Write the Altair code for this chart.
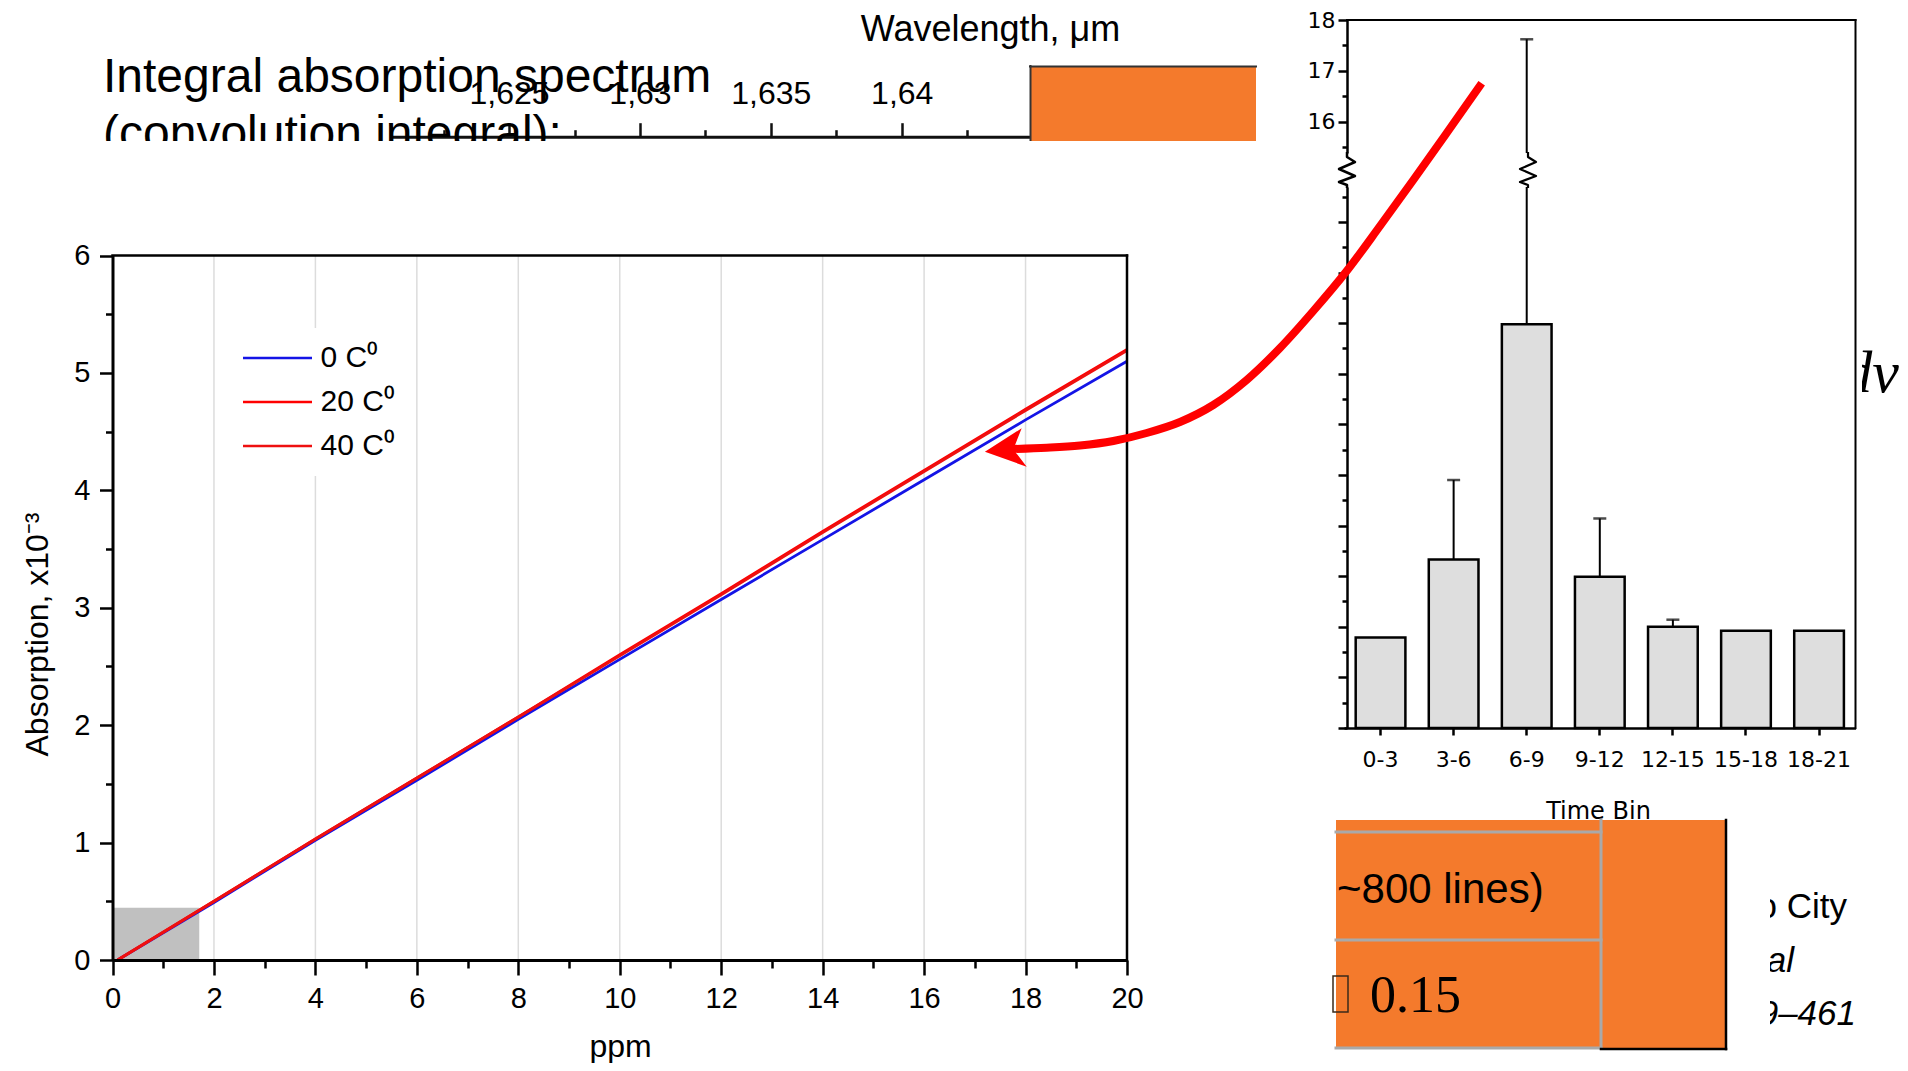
import altair as alt
import pandas as pd

# ---------------- canvas ----------------
W, H = 1892, 1055          # page minus the 8px margins
M = 8
def cx(v): return round(v - M, 1)
def cy(v): return round(v - M, 1)

# ---------------- data: main chart ----------------
PPM = [0.1, 2, 4, 6, 8, 10, 12, 14, 16, 18, 20]
ABS_0C = [0, 0.49, 1.02, 1.53, 2.05, 2.56, 3.07, 3.58, 4.09, 4.60, 5.10]
ABS_20C = [0, 0.50, 1.03, 1.55, 2.07, 2.60, 3.12, 3.65, 4.17, 4.69, 5.20]
ABS_40C = [0, 0.50, 1.03, 1.55, 2.07, 2.59, 3.11, 3.64, 4.16, 4.68, 5.19]
SERIES = ["0 C\u2070", "20 C\u2070", "40 C\u2070"]
SERIES_COLORS = ["#1414e6", "#ff0000", "#ee1010"]
X_MAJOR = [0, 2, 4, 6, 8, 10, 12, 14, 16, 18, 20]
X_MINOR = [1, 3, 5, 7, 9, 11, 13, 15, 17, 19]
GRID_X = [2, 4, 6, 8, 10, 12, 14, 16, 18]
Y_MAJOR = [0, 1, 2, 3, 4, 5, 6]
Y_MINOR = [0.5, 1.5, 2.5, 3.5, 4.5, 5.5]
SHADE_X = [0, 1.71]
SHADE_Y = [0, 0.445]

# ---------------- data: wavelength axis ----------------
WL_DOMAIN = [1.62045, 1.6449]
WL_MAJOR = [1.625, 1.63, 1.635, 1.64]
WL_MINOR = [1.6225, 1.6275, 1.6325, 1.6375, 1.6425]

# ---------------- data: bar chart ----------------
BINS = ["0-3", "3-6", "6-9", "9-12", "12-15", "15-18", "18-21"]
BAR_VALUES = [1.79, 3.33, 7.98, 2.99, 2.00, 1.92, 1.92]
ERR_TOP = [None, 4.90, 17.62, 4.14, 2.14, None, None]
LOW_DOMAIN = [0, 10.69]
HIGH_DOMAIN = [15.38, 18]
LOW_MAJOR = [0, 1, 2, 3, 4, 5, 6, 7, 8, 9, 10]
LOW_MINOR = [0.5, 1.5, 2.5, 3.5, 4.5, 5.5, 6.5, 7.5, 8.5, 9.5, 10.5]
HIGH_MAJOR = [16, 17, 18]
HIGH_MINOR = [15.5, 16.5, 17.5]

SANS = "Liberation Sans"
SERIF = "Liberation Serif"
BARFONT = "DejaVu Sans"
ORANGE = "#f47a2c"

ONE = pd.DataFrame({"k": [0]})


def text_at(s, x, y, size, font=SANS, align="left", style=None, color="black"):
    kw = dict(text=s, font=font, fontSize=size, align=align, baseline="alphabetic", color=color)
    if style:
        kw["fontStyle"] = style
    return alt.Chart(ONE).mark_text(**kw).encode(x=alt.value(cx(x)), y=alt.value(cy(y)))


def box(x1, x2, y1, y2, color, **kw):
    return alt.Chart(ONE).mark_rect(color=color, **kw).encode(
        x=alt.value(cx(x1)), x2=alt.value(cx(x2)), y=alt.value(cy(y1)), y2=alt.value(cy(y2)))


def seg(x1, y1, x2, y2, color="black", w=2.0):
    return alt.Chart(ONE).mark_rule(color=color, strokeWidth=w, strokeCap="square").encode(
        x=alt.value(cx(x1)), x2=alt.value(cx(x2)), y=alt.value(cy(y1)), y2=alt.value(cy(y2)))


def path(points, color, w, interp="linear"):
    df = pd.DataFrame({"i": list(range(len(points))),
                       "px": [cx(p[0]) for p in points],
                       "py": [cy(p[1]) for p in points]})
    return alt.Chart(df).mark_line(color=color, strokeWidth=w, interpolate=interp,
                                   strokeCap="butt", strokeJoin="round").encode(
        x=alt.X("px:Q", scale=None, axis=None),
        y=alt.Y("py:Q", scale=None, axis=None),
        order="i:Q")


layers = []

# ---------------- slide text behind the pictures ----------------
layers.append(text_at("Integral absorption spectrum", 103, 91.7, 48))
layers.append(text_at("(convolution integral):", 103, 149, 48))

# ---------------- wavelength axis ----------------
WX = alt.Scale(domain=WL_DOMAIN, range=[cx(390), cx(1030)], nice=False, zero=False)
wl_major_df = pd.DataFrame({"wl": WL_MAJOR})
wl_minor_df = pd.DataFrame({"wl": WL_MINOR})
layers.append(alt.Chart(wl_major_df).mark_point(opacity=0).encode(
    x=alt.X("wl:Q", scale=WX, axis=alt.Axis(
        orient="top", offset=-cy(136.7), values=WL_MAJOR, tickSize=14, tickWidth=2.5,
        tickColor="#111", domainColor="#111", domainWidth=3, grid=False,
        labelFont=SANS, labelFontSize=32, labelColor="black", labelPadding=12.7,
        labelExpr="replace(format(datum.value, '.4~f'), '.', ',')",
        labelFlush=False, labelOverlap=False,
        title="Wavelength, \u03bcm", titleFont=SANS, titleFontSize=36, titleFontWeight="normal",
        titleColor="black", titleX=cx(990), titleY=-(136.7 - 40), titleBaseline="alphabetic",
        titleAlign="center"))))
layers.append(alt.Chart(wl_minor_df).mark_point(opacity=0).encode(
    x=alt.X("wl:Q", scale=WX, axis=alt.Axis(
        orient="top", offset=-cy(136.7), values=WL_MINOR, tickSize=7, tickWidth=2.5,
        tickColor="#111", domain=False, labels=False, grid=False, title=None))))

# orange box at the top
layers.append(box(1030, 1256, 66, 141, ORANGE))
layers.append(seg(1030, 66.5, 1256, 66.5, "#333", 2))
layers.append(seg(1030.5, 66, 1030.5, 141, "#333", 2))

# "dν" partly hidden by the bar-chart picture
layers.append(text_at("d\u03bd", 1899, 392, 60, font=SERIF, align="right", style="italic"))
layers.append(box(1832, 1862, 330, 410, "white"))

# white background of the main chart picture
layers.append(box(0, 1336, 141, 1071, "white"))

# ---------------- main chart ----------------
XS = alt.Scale(domain=[0, 20], range=[cx(112.5), cx(1127)], nice=False, zero=False)
YS = alt.Scale(domain=[0, 6], range=[cy(960), cy(255.5)], nice=False, zero=False)
X_OFF = cy(960) - H
Y_OFF = -cx(112.5)

grid_df = pd.DataFrame({"g": GRID_X})
layers.append(alt.Chart(grid_df).mark_rule(color="#dcdcdc", strokeWidth=1.5).encode(
    x=alt.X("g:Q", scale=XS, axis=alt.Axis(
        orient="bottom", offset=X_OFF, values=X_MINOR, tickSize=8, tickWidth=2.5,
        tickColor="black", domain=False, labels=False, grid=False, title=None, zindex=1)),
    y=alt.value(cy(255.5)), y2=alt.value(cy(960))))

shade_df = pd.DataFrame({"x0": [SHADE_X[0]], "x1": [SHADE_X[1]],
                         "y0": [SHADE_Y[0]], "y1": [SHADE_Y[1]]})
layers.append(alt.Chart(shade_df).mark_rect(color="#c0c0c0").encode(
    x=alt.X("x0:Q", scale=XS, axis=None), x2="x1:Q",
    y=alt.Y("y0:Q", scale=YS, axis=alt.Axis(
        orient="left", offset=Y_OFF, values=Y_MINOR, tickSize=7, tickWidth=2.5,
        tickColor="black", domain=False, labels=False, grid=False, title=None, zindex=1)),
    y2="y1:Q"))

main_df = pd.DataFrame({
    "ppm": PPM * 3,
    "absorption": ABS_0C + ABS_20C + ABS_40C,
    "series": [s for s in SERIES for _ in PPM],
})
layers.append(alt.Chart(main_df).mark_line(strokeWidth=2.8).encode(
    x=alt.X("ppm:Q", scale=XS, axis=alt.Axis(
        orient="bottom", offset=X_OFF, values=X_MAJOR, tickSize=15, tickWidth=2.5,
        tickColor="black", domainColor="black", domainWidth=3, grid=False,
        labelFont=SANS, labelFontSize=29, labelColor="black", labelPadding=9,
        labelFlush=False, labelOverlap=False,
        title="ppm", titleFont=SANS, titleFontSize=32, titleFontWeight="normal",
        titleColor="black", titleX=cx(620), titleY=96, titleBaseline="alphabetic",
        titleAlign="center", zindex=1)),
    y=alt.Y("absorption:Q", scale=YS, axis=alt.Axis(
        orient="left", offset=Y_OFF, values=Y_MAJOR, tickSize=13, tickWidth=2.5,
        tickColor="black", domainColor="black", domainWidth=3, grid=False,
        labelFont=SANS, labelFontSize=29, labelColor="black", labelPadding=9.5,
        labelFlush=False, labelOverlap=False,
        title="Absorption, x10\u207b\u00b3", titleFont=SANS, titleFontSize=32,
        titleFontWeight="normal", titleColor="black", titleAngle=270,
        titleX=47 - 112.5, titleY=cy(634), titleBaseline="alphabetic", titleAlign="center",
        zindex=1)),
    color=alt.Color("series:N", scale=alt.Scale(domain=SERIES, range=SERIES_COLORS),
                    legend=alt.Legend(
                        title=None, orient="none", legendX=cx(243) - 15.5, legendY=cy(343) - 15,
                        direction="vertical", symbolType="M -3 0 L 3 0", symbolSize=529,
                        symbolStrokeWidth=2.5, symbolOffset=20, symbolFillColor="transparent",
                        labelFont=SANS, labelFontSize=30, labelColor="black",
                        labelOffset=28, rowPadding=14, padding=15, fillColor="white",
                        labelLimit=400, zindex=1)),
))

# frame (top and right)
layers.append(seg(112.5, 255.5, 1127, 255.5, "black", 2.5))
layers.append(seg(1127, 255.5, 1127, 960, "black", 2.5))

# ---------------- bar chart ----------------
BX = alt.Scale(domain=BINS, range=[cx(1344), cx(1855.6)], paddingInner=0.32, paddingOuter=0.16)
LOWY = alt.Scale(domain=LOW_DOMAIN, range=[cy(728), cy(187)], nice=False, zero=False)
HIGHY = alt.Scale(domain=HIGH_DOMAIN, range=[cy(153), cy(20)], nice=False, zero=False)
BAR_AX = -cx(1347)

bar_df = pd.DataFrame({"bin": BINS, "value": BAR_VALUES, "err": ERR_TOP})

layers.append(alt.Chart(bar_df).mark_bar(fill="#dedede", stroke="black", strokeWidth=2.5).encode(
    x=alt.X("bin:N", scale=BX, sort=BINS, axis=alt.Axis(
        orient="bottom", offset=cy(728) - H, tickSize=7, tickWidth=2.5, tickColor="black",
        domainColor="black", domainWidth=2.5, labelAngle=0, labelFont=BARFONT,
        labelFontSize=22, labelColor="black", labelPadding=14, grid=False,
        title="Time Bin", titleFont=BARFONT, titleFontSize=24, titleFontWeight="normal",
        titleColor="black", titleX=cx(1598), titleY=90, titleBaseline="alphabetic",
        titleAlign="center")),
    y=alt.Y("value:Q", scale=LOWY, axis=alt.Axis(
        orient="left", offset=BAR_AX, values=LOW_MAJOR, tickSize=9, tickWidth=2.5,
        tickColor="black", domainColor="black", domainWidth=2.5, labels=False,
        grid=False, title=None)),
    y2=alt.datum(0),
))

layers.append(alt.Chart(bar_df).transform_filter("isValid(datum.err)").transform_calculate(
    errlow=f"min(datum.err, {LOW_DOMAIN[1]})").mark_rule(color="black", strokeWidth=2).encode(
    x=alt.X("bin:N", scale=BX, sort=BINS, axis=None),
    y=alt.Y("value:Q", scale=LOWY, axis=alt.Axis(
        orient="left", offset=BAR_AX, values=LOW_MINOR, tickSize=5, tickWidth=2.5,
        tickColor="black", domain=False, labels=False, grid=False, title=None)),
    y2="errlow:Q"))

layers.append(alt.Chart(bar_df).transform_filter(
    f"isValid(datum.err) && datum.err <= {LOW_DOMAIN[1]}").mark_tick(
    color="black", size=13, thickness=2.5).encode(
    x=alt.X("bin:N", scale=BX, sort=BINS, axis=None),
    y=alt.Y("err:Q", scale=LOWY, axis=None)))

layers.append(alt.Chart(bar_df).transform_filter(
    f"isValid(datum.err) && datum.err > {LOW_DOMAIN[1]}").mark_rule(color="black", strokeWidth=2).encode(
    x=alt.X("bin:N", scale=BX, sort=BINS, axis=None),
    y=alt.Y("err:Q", scale=HIGHY, axis=alt.Axis(
        orient="left", offset=BAR_AX, values=HIGH_MAJOR, tickSize=9, tickWidth=2.5,
        tickColor="black", domainColor="black", domainWidth=2.5, grid=False,
        labelFont=BARFONT, labelFontSize=22, labelColor="black", labelPadding=3, title=None)),
    y2=alt.datum(HIGH_DOMAIN[0])))

layers.append(alt.Chart(bar_df).transform_filter(
    f"isValid(datum.err) && datum.err > {LOW_DOMAIN[1]}").mark_tick(
    color="black", size=13, thickness=2.5).encode(
    x=alt.X("bin:N", scale=BX, sort=BINS, axis=None),
    y=alt.Y("err:Q", scale=HIGHY, axis=alt.Axis(
        orient="left", offset=BAR_AX, values=HIGH_MINOR, tickSize=5, tickWidth=2.5,
        tickColor="black", domain=False, labels=False, grid=False, title=None))))

# axis-break zigzags
layers.append(path([(1347, 152), (1347, 157), (1355, 162), (1339, 169), (1355, 176),
                    (1339, 182), (1347, 185), (1347, 188)], "black", 2.5))
layers.append(path([(1528, 152), (1528, 157), (1536, 162), (1520, 169), (1536, 176),
                    (1520, 182), (1528, 185), (1528, 188)], "black", 2.2))

# bar chart frame
layers.append(seg(1347, 20, 1855.5, 20, "black", 2))
layers.append(seg(1855.5, 20, 1855.5, 728, "black", 2))

# ---------------- bottom-right slide text ----------------
layers.append(text_at("Mexico City", 1847, 918, 35, align="right"))
layers.append(text_at("Journal", 1794, 972, 35, align="right", style="italic"))
layers.append(text_at("459\u2013461", 1856, 1025, 35, align="right", style="italic"))
layers.append(box(1700, 1770, 860, 1071, "white"))

# ---------------- orange table ----------------
layers.append(box(1336, 1726, 820, 1049, ORANGE))
layers.append(seg(1336, 832, 1601, 832, "#a9a9a9", 3))
layers.append(seg(1336, 940, 1601, 940, "#a9a9a9", 3))
layers.append(seg(1336, 1048, 1601, 1048, "#a9a9a9", 3))
layers.append(seg(1601, 820, 1601, 1048, "#a9a9a9", 3))
layers.append(seg(1726, 820, 1726, 1049, "black", 2.5))
layers.append(seg(1601, 1049, 1726, 1049, "black", 2.5))
layers.append(text_at("~800 lines)", 1337, 903, 42))
layers.append(alt.Chart(ONE).mark_rect(fill="transparent", stroke="#3a2a1a", strokeWidth=1.5).encode(
    x=alt.value(cx(1333)), x2=alt.value(cx(1348)), y=alt.value(cy(976)), y2=alt.value(cy(1012))))
layers.append(text_at("0.15", 1370, 1012, 52, font=SERIF))

# ---------------- red arrow ----------------
ARROW = [(1012, 449), (1046.7, 447.7), (1080, 445.5), (1113.3, 441), (1146.7, 433),
         (1180, 422), (1213.3, 405), (1246.7, 380), (1280, 348), (1313.3, 311),
         (1346.7, 271), (1380, 226), (1413.3, 180), (1446.7, 133), (1481.7, 83.3)]
layers.append(path(ARROW, "#ff0000", 8, interp="monotone"))
layers.append(alt.Chart(ONE).mark_point(
    shape="M -1 0.2 L 0.76 -0.92 L 0.36 0.09 L 1 0.92 Z", filled=True, size=1747,
    color="#ff0000", opacity=1, strokeWidth=0).encode(
    x=alt.value(cx(1005.8)), y=alt.value(cy(447.5))))

chart = alt.layer(*layers).resolve_scale(
    x="independent", y="independent"
).properties(
    width=W, height=H, padding=0, autosize=alt.AutoSizeParams(type="none"),
    background="white",
).configure_view(strokeWidth=0)

chart.save("out.html", embed_options={"renderer": "svg", "actions": False})
